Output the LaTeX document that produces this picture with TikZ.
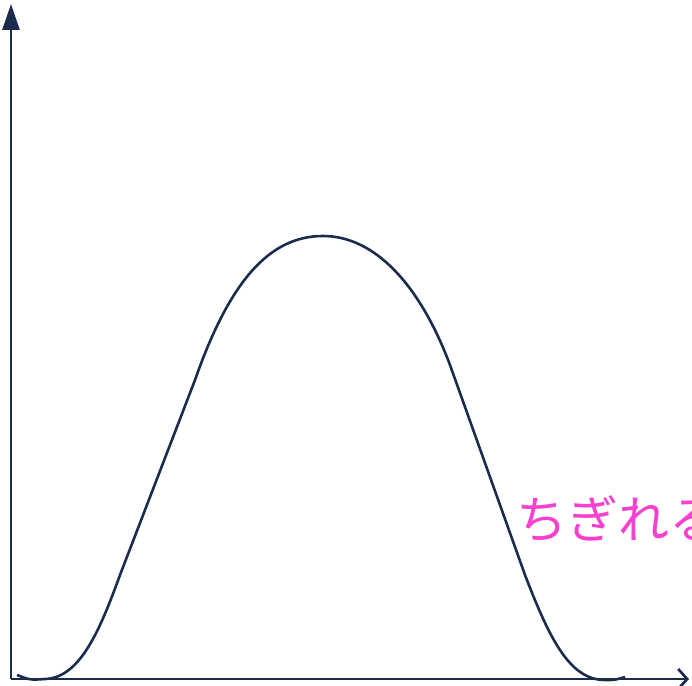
\documentclass[tikz,border=0pt]{standalone}
\usepackage{fontspec}
\newfontfamily\jpfont{Noto Sans CJK JP}
\usepackage{tikz}
\usetikzlibrary{arrows.meta,positioning}
\definecolor{axisNavy}{HTML}{1B2B4D}
\definecolor{tearPink}{HTML}{F640CF}

\begin{document}
\begin{tikzpicture}[x=1pt,y=-1pt,line width=2pt,
  axisline/.style={draw=axisNavy,line width=2.7pt},
  bellcurve/.style={draw=axisNavy,line width=2.6pt,line join=round}]
  \useasboundingbox (0,0) rectangle (692,685);
  \coordinate (origin) at (11,679);
  \coordinate (ytop) at (11,4);
  \coordinate (xend) at (689,679);
  \draw[axisline,-{Triangle[length=26pt,width=17pt]}] (origin) -- (ytop);
  \draw[axisline,-{Straight Barb[length=9pt,width=20pt]}] (origin) -- (xend);
  % the hump
  \coordinate (footL) at (17,675);
  \coordinate (peak) at (323,236);
  \coordinate (footR) at (625,677);
  \draw[bellcurve] (footL) .. controls (30,680) .. (45,679)
    .. controls (80,678) and (100,630) .. (120,575)
    -- (195,380)
    .. controls (230,280) and (270,236) .. (peak)
    .. controls (375,236) and (420,285) .. (450,365)
    -- (525,575)
    .. controls (550,640) and (570,680) .. (605,680)
    .. controls (615,680) .. (footR);
  \node[anchor=west,inner sep=0pt,text=tearPink,font=\jpfont\fontsize{51}{58}\selectfont]
    (tear) at (515,519) {ちぎれる};
\end{tikzpicture}
\end{document}
